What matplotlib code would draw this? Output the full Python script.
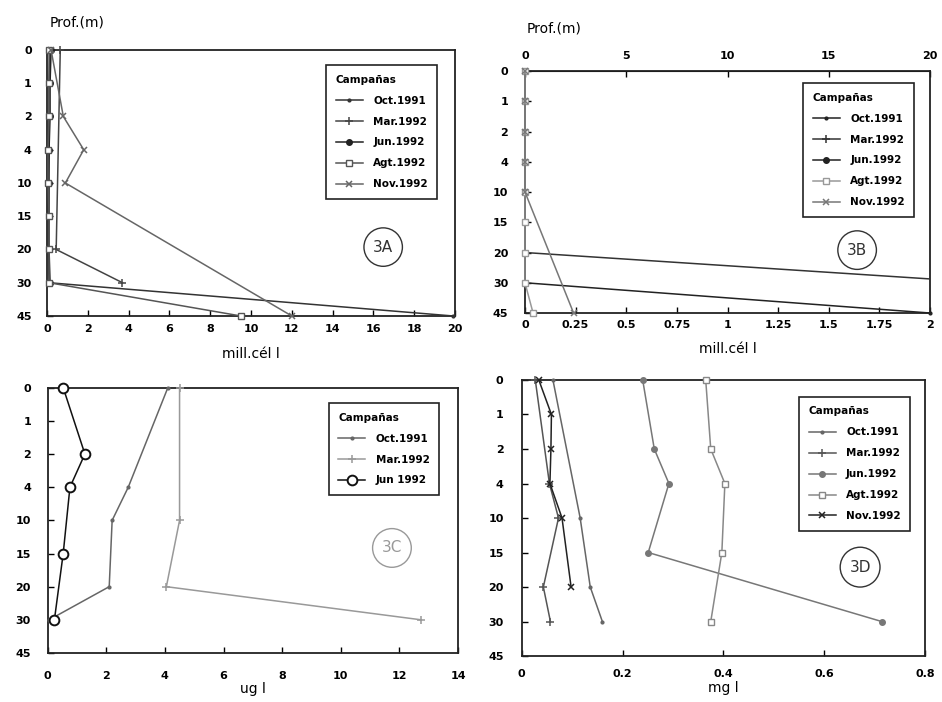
import matplotlib
matplotlib.use("Agg")
import matplotlib.pyplot as plt
from matplotlib.ticker import FormatStrFormatter
import numpy as np

# Depth levels (m); drawn evenly spaced, like the original sampling table
DEPTHS = ["0", "1", "2", "4", "10", "15", "20", "30", "45"]
CAMPAIGNS = ["Oct.1991", "Mar.1992", "Jun.1992", "Agt.1992", "Nov.1992"]

# 3A - cell density (mill.cél/l), one value per depth, None = not sampled
a_oct = [0.15, 0.1, 0.1, 0.1, 0.05, 0.05, 0.05, 0.1, 19.9]
a_mar = [0.65, None, None, None, None, None, 0.45, 3.7, None]
a_jun = [0.2, 0.15, 0.15, 0.1, 0.1, 0.1, 0.1, 0.15, None]
a_agt = [0.1, 0.1, 0.1, 0.05, 0.05, 0.1, 0.1, 0.1, 9.5]
a_nov = [0.2, None, 0.8, 1.8, 0.9, None, None, None, 12.0]

# 3B - cell density (mill.cél/l), second group
b_oct = [0, 0, 0, 0, 0, 0, 0, 0, 2.0]
b_mar = [0, 0, 0, 0, 0, 0, 0, 2.29, None]
b_jun = [0, 0, 0, 0, 0, 0, 0, 0, None]
b_agt = [0, 0, 0, 0, 0, 0, 0, 0, 0.04]
b_nov = [0, 0, 0, 0, 0, None, None, None, 0.24]

# 3C - chlorophyll (ug/l)
C_LABELS = ["Oct.1991", "Mar.1992", "Jun 1992"]
c_oct = [4.1, None, None, 2.75, 2.2, None, 2.1, 0.05, None]
c_mar = [4.5, None, None, None, 4.5, None, 4.05, 12.75, None]
c_jun = [0.53, None, 1.27, 0.76, None, 0.53, None, 0.23, None]

# 3D - mg/l
d_oct = [0.062, None, None, None, 0.116, None, 0.136, 0.16, None]
d_mar = [0.027, None, None, 0.055, 0.073, None, 0.043, 0.057, None]
d_jun = [0.24, None, 0.263, 0.292, None, 0.251, None, 0.714, None]
d_agt = [0.365, None, 0.375, 0.403, None, 0.397, None, 0.375, None]
d_nov = [0.034, 0.059, 0.058, 0.056, 0.08, None, 0.098, None, None]

MARKERS = {
    "Oct.1991": dict(marker=".", ms=4),
    "Mar.1992": dict(marker="+", ms=6, mew=1.1),
    "Jun.1992": dict(marker="o", ms=4),
    "Agt.1992": dict(marker="s", ms=5, mfc="white", mew=1.0),
    "Nov.1992": dict(marker="x", ms=5, mew=1.1),
    "Jun 1992": dict(marker="o", ms=7, mfc="white", mew=1.4),
}

plt.rcParams["font.family"] = "DejaVu Sans"


def draw_profile(ax, series, labels, colors, xmax):
    pos = np.arange(len(DEPTHS))
    for vals, lab, col in zip(series, labels, colors):
        v = np.array([np.nan if x is None else x for x in vals], float)
        ok = ~np.isnan(v)
        clip = bool(np.nanmax(v) > xmax)
        ax.plot(v[ok], pos[ok], color=col, mec=col, lw=1.1, label=lab,
                clip_on=clip, zorder=3, **MARKERS[lab])
    ax.set_xlim(0, xmax)
    ax.set_ylim(len(DEPTHS) - 1, 0)
    ax.set_yticks(pos)
    ax.set_yticklabels(DEPTHS)
    ax.tick_params(direction="in", length=4, width=1, labelsize=8)
    for s in ax.spines.values():
        s.set_linewidth(1.3)
        s.set_color("#222")
    for t in ax.get_xticklabels() + ax.get_yticklabels():
        t.set_fontweight("bold")


def add_legend(ax, x0, y0):
    leg = ax.legend(title="Campañas", loc="upper left", bbox_to_anchor=(x0, y0),
                    fancybox=False, edgecolor="#222", framealpha=1,
                    prop={"weight": "bold", "size": 7.5},
                    title_fontproperties={"weight": "bold", "size": 7.5},
                    alignment="left", handlelength=2.6, labelspacing=1.05,
                    borderpad=0.9, handletextpad=1.0)
    leg.get_frame().set_linewidth(1.2)


def circle_tag(ax, x, y, text, color="#333"):
    ax.text(x, y, text, transform=ax.transAxes, ha="center", va="center",
            fontsize=11, color=color,
            bbox=dict(boxstyle="circle,pad=0.6", fc="none", ec=color, lw=1.0))


fig = plt.figure(figsize=(9.42, 7.02), dpi=100)

axA = fig.add_axes([0.0499, 0.5499, 0.4331, 0.3789])
draw_profile(axA, [a_oct, a_mar, a_jun, a_agt, a_nov], CAMPAIGNS,
             ["#333", "#444", "#222", "#555", "#666"], 20)
axA.set_xticks(np.arange(0, 21, 2))
axA.tick_params(axis="y", pad=11)
axA.tick_params(axis="x", pad=6)
axA.set_xlabel("mill.cél l", fontsize=10, labelpad=9)
add_legend(axA, 0.672, 0.962)
circle_tag(axA, 0.824, 0.259, "3A")
fig.text(0.053, 0.962, "Prof.(m)", fontsize=10)

axB = fig.add_axes([0.5573, 0.5541, 0.43, 0.3447])
draw_profile(axB, [b_oct, b_mar, b_jun, b_agt, b_nov], CAMPAIGNS,
             ["#222", "#333", "#222", "#999", "#777"], 2)
axB.set_xticks(np.arange(0, 2.01, 0.25))
axB.xaxis.set_major_formatter(FormatStrFormatter("%g"))
for t in axB.get_xticklabels():
    t.set_fontweight("bold")
axB.tick_params(axis="y", pad=12)
axB.tick_params(axis="x", pad=5)
axB.set_xlabel("mill.cél l", fontsize=10, labelpad=9)
top = axB.secondary_xaxis("top", functions=(lambda x: x * 10, lambda x: x / 10))
top.set_xticks([0, 5, 10, 15, 20])
top.tick_params(direction="in", length=4, width=1, labelsize=8, pad=7)
for t in top.get_xticklabels():
    t.set_fontweight("bold")
add_legend(axB, 0.674, 0.971)
circle_tag(axB, 0.82, 0.26, "3B")
fig.text(0.559, 0.953, "Prof.(m)", fontsize=10)

axC = fig.add_axes([0.0506, 0.0698, 0.4356, 0.3779])
draw_profile(axC, [c_oct, c_mar, c_jun], C_LABELS,
             ["#666", "#999", "#111"], 14)
axC.set_xticks(np.arange(0, 15, 2))
axC.tick_params(axis="y", pad=12)
axC.tick_params(axis="x", pad=13)
axC.set_xlabel("ug l", fontsize=10, labelpad=1)
add_legend(axC, 0.673, 0.961)
circle_tag(axC, 0.839, 0.396, "3C", color="#999")

axD = fig.add_axes([0.5538, 0.0655, 0.4282, 0.3932])
draw_profile(axD, [d_oct, d_mar, d_jun, d_agt, d_nov], CAMPAIGNS,
             ["#666", "#555", "#777", "#888", "#222"], 0.8)
axD.set_xticks([0, 0.2, 0.4, 0.6, 0.8])
axD.xaxis.set_major_formatter(FormatStrFormatter("%g"))
for t in axD.get_xticklabels():
    t.set_fontweight("bold")
axD.tick_params(axis="y", pad=13)
axD.tick_params(axis="x", pad=9)
axD.set_xlabel("mg l", fontsize=10, labelpad=2)
add_legend(axD, 0.675, 0.957)
circle_tag(axD, 0.839, 0.322, "3D")

fig.savefig("out.png", dpi=100)
